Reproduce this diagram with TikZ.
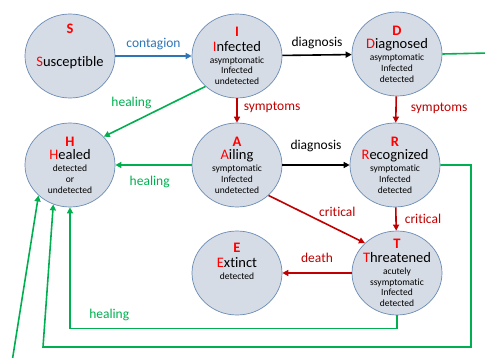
\documentclass[tikz,border=0pt]{standalone}
\usepackage{fontspec}
\setmainfont{Carlito}[Ligatures=NoCommon]
\usepackage{xcolor}
\definecolor{StateFill}{HTML}{D6DCE5}
\definecolor{StateBorder}{HTML}{6A8BB5}
\definecolor{LetterRed}{HTML}{FF0000}
\definecolor{ArrowRed}{HTML}{C00000}
\definecolor{ContagionBlue}{HTML}{2E75B6}
\definecolor{HealGreen}{HTML}{00B050}
\newcommand{\nm}{\fontsize{14.5}{15}\selectfont}
\newcommand{\tagl}[1]{{\nm\textcolor{LetterRed}{\bfseries #1}}}
\newcommand{\sname}[2]{{\nm\textcolor{LetterRed}{#1}#2}}
\usetikzlibrary{shapes.geometric, arrows.meta, positioning}

\begin{document}
\begin{tikzpicture}[
  x=1pt, y=-1pt,
  state/.style={ellipse, draw=StateBorder, fill=StateFill, line width=0.7pt,
                minimum width=90pt, minimum height=84pt, inner sep=-14pt,
                align=center, font=\fontsize{9.5}{10.8}\selectfont},
  flow/.style={line width=1.6pt, -{Triangle[length=6pt,width=6pt]}},
  heal/.style={flow, draw=HealGreen},
  lbl/.style={font=\fontsize{13.5}{15}\selectfont, inner sep=1pt},
]
\useasboundingbox (0,0) rectangle (485,358);

% states
\node[state] (S) at (70,56) {\tagl{S}\\[22pt]\sname{S}{usceptible}\\[11pt]\mbox{}};
\node[state] (I) at (237,56) {\tagl{I}\\[4pt]\sname{I}{nfected}\\[1pt]
  asymptomatic\\Infected\\undetected};
\node[state] (D) at (397,54) {\tagl{D}\\[3pt]\sname{D}{iagnosed}\\[1pt]
  asymptomatic\\Infected\\detected};
\node[state] (H) at (70,165) {\tagl{H}\\[3pt]\sname{H}{ealed}\\[1pt]
  detected\\or\\undetected};
\node[state] (A) at (237,165) {\tagl{A}\\[3pt]\sname{A}{iling}\\[1pt]
  symptomatic\\Infected\\undetected};
\node[state] (R) at (395,165) {\tagl{R}\\[3pt]\sname{R}{ecognized}\\[1pt]
  symptomatic\\Infected\\detected};
\node[state] (E) at (237,273) {\tagl{E}\\[4pt]\sname{E}{xtinct}\\[1pt]
  detected\\[13pt]\mbox{}};
\node[state] (T) at (397,273) {\tagl{T}\\[3pt]\sname{T}{hreatened}\\[1pt]
  acutely\\ssymptomatic\\Infected\\detected};

% transitions
\draw[flow, ContagionBlue] (S) -- node[lbl, above=4pt] {contagion} (I);
\draw[flow, black] (I) -- node[lbl, above=4pt] {diagnosis} (D);
\draw[flow, ArrowRed] (I) -- node[lbl, right=5pt, pos=0.35] {symptoms} (A);
\draw[flow, ArrowRed] (D) -- node[lbl, right=13pt, pos=0.45] {symptoms} (R);
\draw[flow, black] (A) -- node[lbl, above=11pt] {diagnosis} (R);
\draw[flow, ArrowRed] (A.316) -- node[lbl, above right=1pt] {critical} (T.137);
\draw[flow, ArrowRed] (R) -- node[lbl, right=7pt] {critical} (T);
\draw[flow, ArrowRed] (T) -- node[lbl, above=9pt] {death} (E);

% healing
\draw[heal] (I.224) -- node[lbl, above left=2pt, text=HealGreen] {healing} (H.40);
\draw[heal] (A) -- node[lbl, below=9pt, pos=0.55, text=HealGreen] {healing} (H);
\draw[heal] (T.south) -- ++(0,13) -| node[lbl, pos=0.44, above=6pt, text=HealGreen] {healing} (H.south);
\coordinate (rc) at (471,347);
\coordinate (lc) at (43,347);
\draw[heal] (R.east) -| (rc) -- (lc) -- (H.247);
\coordinate (offl) at (12,362);
\draw[heal] (offl) -- (H.224);
\coordinate (offr) at (490,53);
\draw[line width=1.6pt, HealGreen] (D.east) -- (offr);
\end{tikzpicture}
\end{document}
